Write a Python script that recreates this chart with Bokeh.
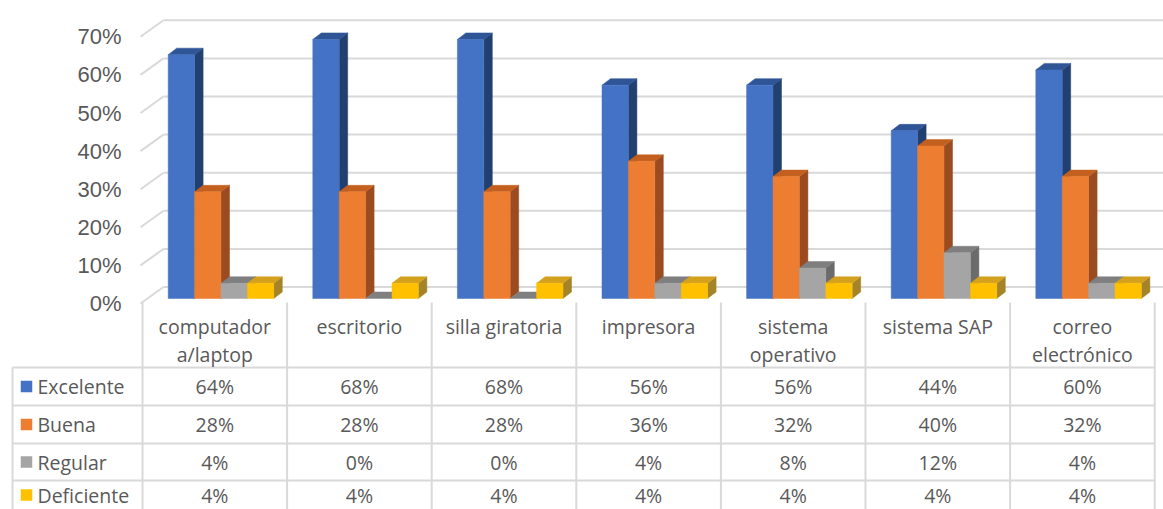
from bokeh.plotting import figure
from bokeh.models import Range1d
from bokeh.embed import file_html
from bokeh.resources import INLINE
from bokeh.core.properties import value

# ---- data -------------------------------------------------------------
categories = ["computador\na/laptop", "escritorio", "silla giratoria", "impresora",
              "sistema\noperativo", "sistema SAP", "correo\nelectrónico"]
series_names = ["Excelente", "Buena", "Regular", "Deficiente"]
excelente = [64, 68, 68, 56, 56, 44, 60]
buena = [28, 28, 28, 36, 32, 40, 32]
regular = [4, 0, 0, 4, 8, 12, 4]
deficiente = [4, 4, 4, 4, 4, 4, 4]
y_ticks = [0, 10, 20, 30, 40, 50, 60, 70]

series_values = [excelente, buena, regular, deficiente]

# front / top / side shades for the 3-D columns
front_colors = ["#4472C4", "#ED7D31", "#A5A5A5", "#FFC000"]
top_colors = ["#2F5597", "#C4601F", "#7F7F7F", "#D4A11F"]
side_colors = ["#21406F", "#9A4B20", "#6B6B6B", "#A58428"]

# ---- geometry (pixel layout -> data units) -----------------------------
W, H = 1163, 509
COL0 = 142.0        # left edge of first category column (px)
COL_W = 144.6       # category column width (px)
BASE = 298.0        # baseline of the column fronts (px from top)
PX_PER_PCT = 3.81   # vertical pixels per percent


def X(px):
    return (px - COL0) / COL_W


def Y(py):
    return (BASE - py) / PX_PER_PCT


def dx(px):
    return px / COL_W


def dy(px):
    return px / PX_PER_PCT


GRID = "#D9D9D9"
TEXT = "#595959"
TABLE_FONT = value("Open Sans")
TABLE_SIZE = "19.5px"

p = figure(width=W, height=H,
           x_range=Range1d(X(0), X(W)), y_range=Range1d(Y(H), Y(0)),
           output_backend="svg", toolbar_location=None,
           x_axis_location=None, y_axis_location=None, min_border=0)
p.grid.visible = False
p.outline_line_color = None
p.background_fill_color = "white"

# ---- walls: back gridlines and side-wall diagonals ---------------------
BACK_SHIFT = dy(11.5)
FRONT_SHIFT = dy(5)
p.segment(x0=[X(163)] * len(y_ticks), x1=[X(W)] * len(y_ticks),
          y0=[t + BACK_SHIFT for t in y_ticks], y1=[t + BACK_SHIFT for t in y_ticks],
          line_color=GRID, line_width=2)
p.segment(x0=[X(140)] * len(y_ticks), x1=[X(163)] * len(y_ticks),
          y0=[t - FRONT_SHIFT for t in y_ticks], y1=[t + BACK_SHIFT for t in y_ticks],
          line_color=GRID, line_width=2)

# value-axis labels
p.text(x=[X(121)] * len(y_ticks), y=[t - FRONT_SHIFT for t in y_ticks],
       text=[f"{t}%" for t in y_ticks], text_align="right", text_baseline="middle",
       text_font=value("Liberation Sans"), text_font_size="22px", text_color=TEXT)

# ---- 3-D columns -------------------------------------------------------
OFF = dx(25.7)
BW = dx(26.4)
DX = dx(8.5)
DY = dy(6.5)

for j, vals in enumerate(series_values):
    lefts = [i + OFF + j * BW for i in range(len(categories))]
    rights = [l + BW for l in lefts]
    side_xs = [[r, r + DX, r + DX, r] for r in rights]
    side_ys = [[0, DY, v + DY, v] for v in vals]
    top_xs = [[l, l + DX, r + DX, r] for l, r in zip(lefts, rights)]
    top_ys = [[v, v + DY, v + DY, v] for v in vals]
    p.patches(side_xs, side_ys, fill_color=side_colors[j], line_color=side_colors[j], line_width=0.5)
    p.patches(top_xs, top_ys, fill_color=top_colors[j], line_color=top_colors[j], line_width=0.5)
    p.quad(left=lefts, right=rights, bottom=[0] * len(vals), top=vals,
           fill_color=front_colors[j], line_color=front_colors[j], line_width=0.5)

# ---- data table --------------------------------------------------------
n = len(categories)
col_edges = [X(COL0 + k * COL_W) for k in range(n + 1)]
row_lines = [367, 405, 443, 480, 518]
row_centers = [386, 424, 461.5, 494.5]

p.segment(x0=col_edges, x1=col_edges, y0=[Y(302)] * len(col_edges), y1=[Y(H + 20)] * len(col_edges),
          line_color=GRID, line_width=2)
p.segment(x0=[X(12)], x1=[X(12)], y0=[Y(367)], y1=[Y(H + 20)], line_color=GRID, line_width=2)
p.segment(x0=[X(12)] * len(row_lines), x1=[col_edges[-1]] * len(row_lines),
          y0=[Y(r) for r in row_lines], y1=[Y(r) for r in row_lines],
          line_color=GRID, line_width=2)

# category headers (wrapped onto two lines where needed)
hx, hy, ht = [], [], []
for i, name in enumerate(categories):
    for k, line in enumerate(name.split("\n")):
        hx.append(i + 0.5)
        hy.append(Y(326 + 28 * k))
        ht.append(line)
p.text(x=hx, y=hy, text=ht, text_align="center", text_baseline="middle",
       text_font=TABLE_FONT, text_font_size=TABLE_SIZE, text_color=TEXT)

# legend keys and series names
p.scatter(x=[X(26)] * len(series_names), y=[Y(c) for c in row_centers], marker="square",
          size=11.5, fill_color=front_colors, line_color=None)
p.text(x=[X(37)] * len(series_names), y=[Y(c) for c in row_centers], text=series_names,
       text_align="left", text_baseline="middle",
       text_font=TABLE_FONT, text_font_size=TABLE_SIZE, text_color=TEXT)

# cell values
vx, vy, vt = [], [], []
for j, vals in enumerate(series_values):
    for i, v in enumerate(vals):
        vx.append(i + 0.5)
        vy.append(Y(row_centers[j]))
        vt.append(f"{v}%")
p.text(x=vx, y=vy, text=vt, text_align="center", text_baseline="middle",
       text_font=TABLE_FONT, text_font_size=TABLE_SIZE, text_color=TEXT)

open("out.html", "w").write(file_html(p, INLINE))
